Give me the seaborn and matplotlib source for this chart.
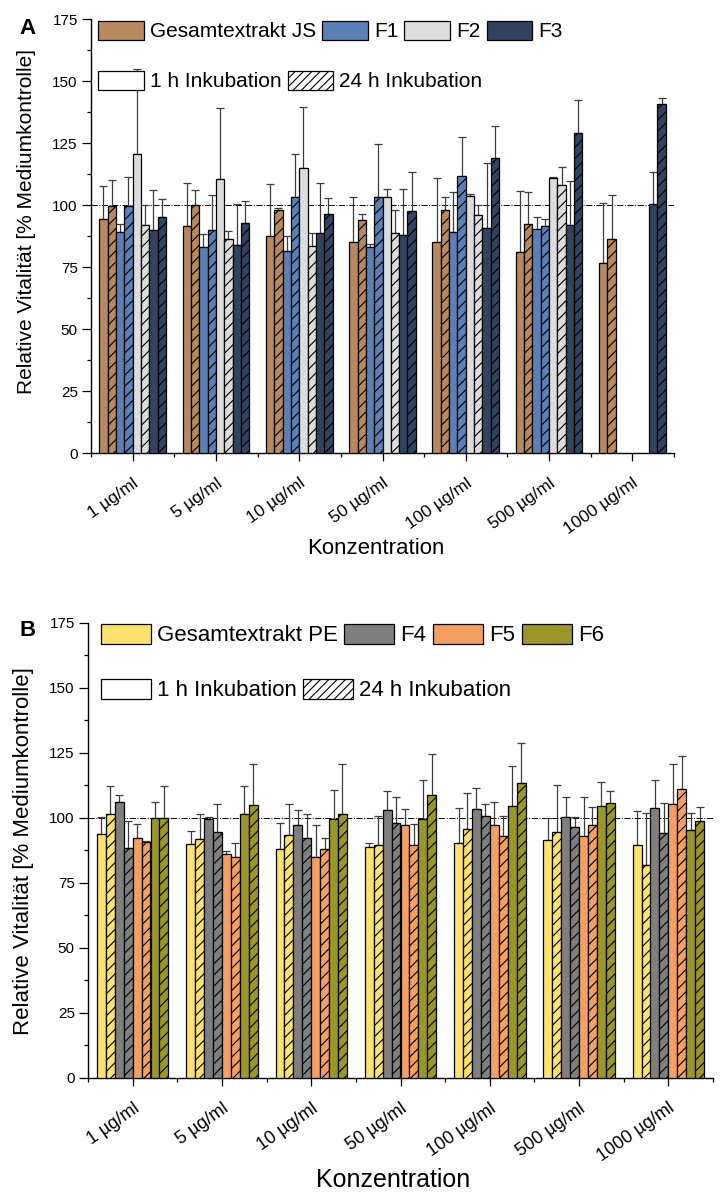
import numpy as np
import pandas as pd
import matplotlib
matplotlib.use("Agg")
import matplotlib.pyplot as plt
import matplotlib.patches as mpatches
from matplotlib.ticker import MultipleLocator
import seaborn as sns

sns.set_theme(style="ticks", rc={
    "axes.edgecolor": "black", "text.color": "black", "axes.labelcolor": "black",
    "xtick.color": "black", "ytick.color": "black",
})
plt.rcParams["font.family"] = ["Liberation Sans", "DejaVu Sans"]
plt.rcParams["hatch.linewidth"] = 0.8

nan = np.nan
concentrations = ["1 µg/ml", "5 µg/ml", "10 µg/ml", "50 µg/ml",
                  "100 µg/ml", "500 µg/ml", "1000 µg/ml"]
incubations = ["1 h Inkubation", "24 h Inkubation"]

# Panel A: Gesamtextrakt JS and fractions F1-F3 (mean, SD)
series_a = ["Gesamtextrakt JS", "F1", "F2", "F3"]
colors_a = ["#B8895F", "#5B80B6", "#DCDCDC", "#33435F"]
js_1h = [94.4, 91.7, 87.8, 85.1, 85.3, 81.2, 76.9]
js_1h_sd = [13.4, 17.4, 20.8, 18.4, 25.6, 24.6, 24.2]
js_24h = [99.7, 100.0, 98.0, 94.2, 98.0, 92.3, 86.5]
js_24h_sd = [10.3, 6.3, 1.0, 2.3, 5.3, 13.1, 17.5]
f1_1h = [89.1, 83.3, 81.7, 83.2, 89.2, 90.3, nan]
f1_1h_sd = [3.2, 5.3, 6.1, 1.3, 16.0, 4.9, nan]
f1_24h = [99.8, 89.9, 103.2, 103.3, 111.8, 91.5, nan]
f1_24h_sd = [11.7, 14.4, 17.4, 21.4, 15.9, 3.1, nan]
f2_1h = [120.8, 110.6, 114.9, 103.5, 103.7, 111.0, nan]
f2_1h_sd = [34.0, 28.6, 24.9, 2.9, 0.7, 0.5, nan]
f2_24h = [91.9, 86.3, 83.7, 89.0, 96.0, 108.1, nan]
f2_24h_sd = [8.1, 3.5, 5.3, 9.0, 4.0, 7.5, nan]
f3_1h = [89.9, 83.9, 88.8, 87.9, 90.7, 91.9, 100.6]
f3_1h_sd = [16.3, 16.5, 20.3, 18.5, 26.2, 17.8, 12.9]
f3_24h = [95.2, 92.7, 96.5, 97.7, 118.9, 129.0, 140.7]
f3_24h_sd = [7.2, 9.2, 6.3, 15.6, 13.1, 13.6, 2.7]

# Panel B: Gesamtextrakt PE and fractions F4-F6 (mean, SD)
series_b = ["Gesamtextrakt PE", "F4", "F5", "F6"]
colors_b = ["#FCE26F", "#7F7F7F", "#F3A062", "#9A9628"]
pe_1h = [93.6, 90.0, 87.8, 88.8, 90.1, 91.4, 89.5]
pe_1h_sd = [6.8, 5.0, 10.3, 1.3, 13.5, 8.4, 13.2]
pe_24h = [101.3, 91.9, 93.2, 89.6, 95.8, 94.5, 81.9]
pe_24h_sd = [11.0, 9.6, 12.2, 11.2, 13.6, 18.0, 20.0]
f4_1h = [106.0, 99.5, 97.1, 102.9, 103.2, 100.2, 103.6]
f4_1h_sd = [2.7, 0.9, 5.7, 7.5, 8.2, 7.8, 10.8]
f4_24h = [88.5, 94.6, 92.2, 97.8, 100.5, 96.3, 94.0]
f4_24h_sd = [10.3, 10.8, 9.1, 10.1, 4.6, 4.1, 11.8]
f5_1h = [92.1, 86.0, 85.0, 97.1, 97.1, 92.9, 105.1]
f5_1h_sd = [5.4, 1.3, 12.1, 6.2, 8.8, 15.2, 15.4]
f5_24h = [90.7, 85.0, 88.1, 89.4, 92.8, 97.1, 111.1]
f5_24h_sd = [0.5, 5.3, 4.0, 8.3, 8.0, 7.0, 12.7]
f6_1h = [99.8, 101.3, 99.4, 99.6, 104.6, 104.4, 95.2]
f6_1h_sd = [6.4, 11.0, 11.1, 14.8, 15.2, 9.3, 6.5]
f6_24h = [100.0, 104.9, 101.5, 108.8, 113.3, 105.5, 98.8]
f6_24h_sd = [12.3, 15.9, 19.0, 15.8, 15.5, 4.8, 5.5]


def long_frame(series, values, sds):
    rows = []
    for s, (v1, v24), (s1, s24) in zip(series, values, sds):
        for inc, vals, errs in ((incubations[0], v1, s1), (incubations[1], v24, s24)):
            for c, v, e in zip(concentrations, vals, errs):
                if not np.isnan(v):
                    rows.append({"conc": c, "group": f"{s}|{inc}", "value": v, "sd": e})
    return pd.DataFrame(rows)


def draw_panel(ax, df, series, colors, fs_tick_x):
    hue_order = [f"{s}|{i}" for s in series for i in incubations]
    palette = {f"{s}|{i}": col for s, col in zip(series, colors) for i in incubations}
    sns.barplot(data=df, x="conc", y="value", hue="group", order=concentrations,
                hue_order=hue_order, palette=palette, saturation=1, width=0.8,
                errorbar=None, edgecolor="black", linewidth=0.9, legend=False,
                gap=0, ax=ax, zorder=3)
    n = len(hue_order)
    step = 0.8 / n
    lookup = df.set_index(["conc", "group"])["sd"]
    for bar in list(ax.patches):
        cx = bar.get_x() + bar.get_width() / 2
        xi = int(round(cx))
        k = int(round((cx - xi) / step + (n - 1) / 2))
        grp = hue_order[k]
        if grp.endswith(incubations[1]):
            bar.set_hatch("///")
        sd = lookup[(concentrations[xi], grp)]
        ax.errorbar(cx, bar.get_height(), yerr=[[0], [sd]], fmt="none",
                    ecolor="#3c3c3c", elinewidth=0.9, capsize=3, capthick=0.9,
                    zorder=2)
    ax.axhline(100, color="black", lw=0.7, ls="-.", zorder=1)
    ax.set_xlim(-0.5, 6.5)
    ax.set_ylim(0, 175)
    ax.yaxis.set_major_locator(MultipleLocator(25))
    ax.yaxis.set_minor_locator(MultipleLocator(12.5))
    ax.set_xticks(range(len(concentrations)))
    ax.set_xticks(np.arange(-0.5, len(concentrations), 1.0), minor=True)
    ax.set_xticklabels(concentrations, rotation=35, ha="right",
                       rotation_mode="anchor", fontsize=fs_tick_x)
    ax.tick_params(axis="x", which="major", length=6, width=0.9, pad=10)
    ax.tick_params(axis="y", which="major", length=6.5, width=0.9, pad=3,
                   labelsize=11)
    ax.tick_params(which="minor", length=3, width=0.9)
    ax.set_xlabel("")
    ax.set_ylabel("")
    for sp in ("left", "bottom"):
        ax.spines[sp].set_linewidth(1.0)
    sns.despine(ax=ax)


def add_legends(fig, series, colors, x, y1, y2, fs, hl, hh):
    h1 = [mpatches.Patch(facecolor=c, edgecolor="black", linewidth=0.9, label=s)
          for s, c in zip(series, colors)]
    h2 = [mpatches.Patch(facecolor="white", edgecolor="black", linewidth=0.9,
                         label=incubations[0]),
          mpatches.Patch(facecolor="white", edgecolor="black", linewidth=0.9,
                         hatch="////", label=incubations[1])]
    kw = dict(frameon=False, loc="center left", borderpad=0, borderaxespad=0,
              handlelength=hl, handleheight=hh, handletextpad=0.28,
              columnspacing=0.3, fontsize=fs)
    fig.legend(handles=h1, ncol=4, bbox_to_anchor=(x, y1), **kw)
    fig.legend(handles=h2, ncol=2, bbox_to_anchor=(x, y2), **kw)


W, H = 728, 1197
fig = plt.figure(figsize=(W / 100, H / 100), dpi=100)
ax_a = fig.add_axes([91 / W, 1 - 453.3 / H, 583 / W, 434 / H])
ax_b = fig.add_axes([88 / W, 1 - 1077.7 / H, 625 / W, 455 / H])

df_a = long_frame(series_a,
                  [(js_1h, js_24h), (f1_1h, f1_24h), (f2_1h, f2_24h), (f3_1h, f3_24h)],
                  [(js_1h_sd, js_24h_sd), (f1_1h_sd, f1_24h_sd),
                   (f2_1h_sd, f2_24h_sd), (f3_1h_sd, f3_24h_sd)])
df_b = long_frame(series_b,
                  [(pe_1h, pe_24h), (f4_1h, f4_24h), (f5_1h, f5_24h), (f6_1h, f6_24h)],
                  [(pe_1h_sd, pe_24h_sd), (f4_1h_sd, f4_24h_sd),
                   (f5_1h_sd, f5_24h_sd), (f6_1h_sd, f6_24h_sd)])

draw_panel(ax_a, df_a, series_a, colors_a, 12.5)
draw_panel(ax_b, df_b, series_b, colors_b, 13)

add_legends(fig, series_a, colors_a, 98 / W, 1 - 31 / H, 1 - 81 / H, 15, 2.2, 1.04)
add_legends(fig, series_b, colors_b, 100.5 / W, 1 - 635 / H, 1 - 690 / H, 16, 2.25, 1.05)

ylab = "Relative Vitalität [% Mediumkontrolle]"
fig.text(27 / W, 1 - 222 / H, ylab, rotation=90, ha="center", va="center", fontsize=15)
fig.text(24 / W, 1 - 851 / H, ylab, rotation=90, ha="center", va="center", fontsize=16)
fig.text(376 / W, 1 - 548 / H, "Konzentration", ha="center", va="center", fontsize=16)
fig.text(393 / W, 1 - 1180 / H, "Konzentration", ha="center", va="center", fontsize=18)
fig.text(28 / W, 1 - 29 / H, "A", ha="center", va="center", fontsize=16, fontweight="bold")
fig.text(28 / W, 1 - 631 / H, "B", ha="center", va="center", fontsize=16, fontweight="bold")

fig.savefig("out.png", dpi=100)
